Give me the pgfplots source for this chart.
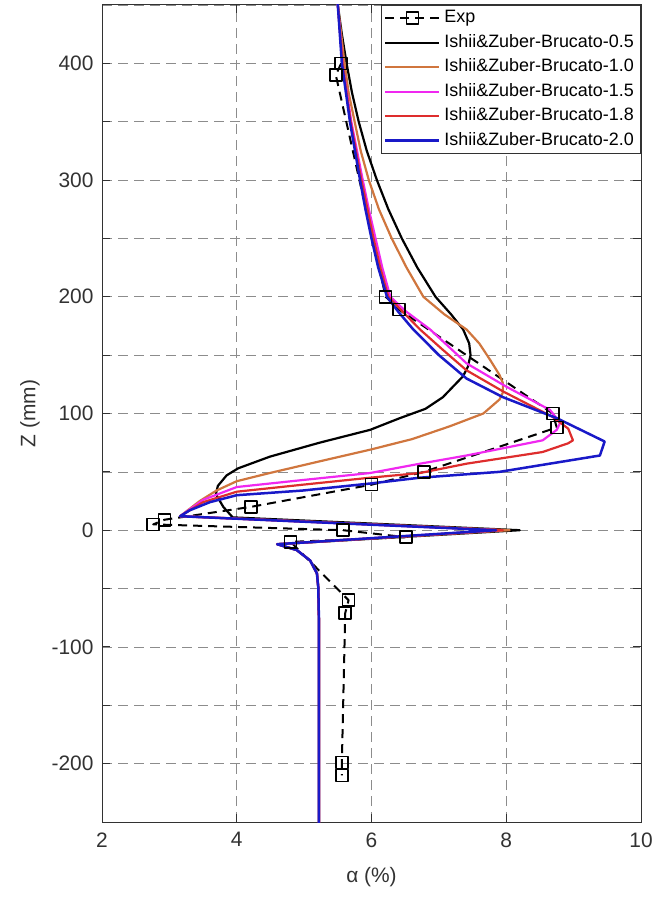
\documentclass[border=0pt]{standalone}
\usepackage{fontspec}
\setmainfont{Liberation Sans}
\usepackage{pgfplots}
\pgfplotsset{compat=1.18}
\definecolor{cOrange}{RGB}{208,118,62}
\definecolor{cMagenta}{RGB}{240,40,240}
\definecolor{cRed}{RGB}{222,45,45}
\definecolor{cBlue}{RGB}{25,25,200}
\definecolor{axgray}{RGB}{50,50,50}
\begin{document}
\begin{tikzpicture}
\begin{axis}[
  scale only axis, width=539bp, height=817bp,
  xmin=2, xmax=10, ymin=-250, ymax=450,
  xtick={2,4,6,8,10},
  ytick={-250,-200,...,450},
  yticklabels={{},-200,{},-100,{},0,{},100,{},200,{},300,{},400,{}},
  grid=major,
  major grid style={dash pattern=on 10bp off 6bp, black!45, line width=0.7bp},
  tick align=inside,
  major tick length=8bp,
  axis line style={axgray, line width=1bp},
  tick style={axgray, line width=1bp},
  /pgf/number format/assume math mode=true,
  ticklabel style={font=\fontsize{21}{25}\selectfont, text=axgray},
  xticklabel style={yshift=-7bp},
  yticklabel style={xshift=-5bp},
  xlabel={α (\%)},
  xlabel style={at={(axis description cs:0.5,-0.0673)}, anchor=center, font=\fontsize{21}{25}\selectfont, text=axgray},
  ylabel={Z (mm)},
  ylabel style={at={(axis description cs:-0.1336,0.5)}, anchor=center, font=\fontsize{21}{25}\selectfont, text=axgray},
  legend image code/.code={\draw[mark repeat=2,mark phase=2,#1] plot coordinates {(0bp,0bp) (27bp,0bp) (54bp,0bp)};},
  legend style={at={(1,1)}, anchor=north east, draw=axgray, line width=0.9bp, fill=white,
    font=\fontsize{18}{21}\selectfont, inner xsep=3bp, inner ysep=0.5bp,
    nodes={text height=13bp, text depth=4bp, inner sep=3.75bp}},
  legend cell align=left,
  every axis plot/.append style={line join=round},
]
\addplot[black, line width=2bp, dash pattern=on 9bp off 6bp, mark=square, mark size=6bp, mark options={solid, line width=1.6bp}] coordinates {
(5.55,400) (5.47,390) (6.21,200) (6.41,189) (8.69,100) (8.75,88) (6.78,50) (6.00,39) (4.21,20) (2.93,9) (2.76,5) (5.58,0) (6.51,-6) (4.80,-10) (5.66,-60) (5.61,-71) (5.56,-199) (5.56,-210)
};
\addlegendentry{Exp}
\addplot[black, line width=2.2bp] coordinates {
(5.47,460) (5.50,450) (5.56,425) (5.63,400) (5.71,375) (5.81,350) (5.93,325) (6.08,300) (6.25,275) (6.45,250) (6.68,225) (6.95,200) (7.18,185) (7.36,172) (7.45,160) (7.47,150) (7.43,140) (7.36,132) (7.06,114) (6.80,104) (6.42,96) (5.98,86) (5.23,75) (4.49,63) (4.02,53) (3.85,47) (3.72,38) (3.69,31) (3.80,20) (3.94,11) (8.20,0) (4.60,-12) (4.89,-17) (5.09,-26) (5.19,-37) (5.21,-49) (5.22,-77) (5.22,-260)
};
\addlegendentry{Ishii\&Zuber-Brucato-0.5}
\addplot[cOrange, line width=2.2bp] coordinates {
(5.47,460) (5.50,450) (5.60,400) (5.66,375) (5.75,350) (5.84,325) (5.96,300) (6.11,275) (6.30,250) (6.52,225) (6.77,200) (7.08,185) (7.41,172) (7.60,160) (7.76,146) (7.90,133) (7.95,126) (7.95,118) (7.90,112) (7.66,100) (7.16,89) (6.60,78) (5.98,69) (5.23,59) (4.49,49) (4.00,42) (3.70,34) (3.45,25) (3.16,12) (8.05,0) (4.60,-12) (4.89,-17) (5.09,-26) (5.19,-37) (5.21,-49) (5.22,-77) (5.22,-260)
};
\addlegendentry{Ishii\&Zuber-Brucato-1.0}
\addplot[cMagenta, line width=2.2bp] coordinates {
(5.47,460) (5.50,450) (5.57,400) (5.70,350) (5.87,300) (5.96,275) (6.06,250) (6.16,225) (6.28,200) (6.50,188) (6.87,172) (7.15,157) (7.41,143) (8.00,123) (8.65,103) (8.80,92) (8.75,86) (8.54,77) (7.41,64) (6.72,57) (5.98,49) (4.98,43) (4.00,37) (3.50,26) (3.16,12) (7.90,0) (4.60,-12) (4.89,-17) (5.09,-26) (5.19,-37) (5.21,-49) (5.22,-77) (5.22,-260)
};
\addlegendentry{Ishii\&Zuber-Brucato-1.5}
\addplot[cRed, line width=2.2bp] coordinates {
(5.47,460) (5.50,450) (5.57,400) (5.69,350) (5.85,300) (5.94,275) (6.03,250) (6.13,225) (6.25,200) (6.45,188) (6.72,172) (7.05,155) (7.41,137) (7.95,119) (8.69,97) (8.92,87) (8.99,77) (8.92,74.5) (8.54,67) (7.41,57) (6.72,49) (5.98,45) (4.98,39) (4.00,33) (3.50,24) (3.16,12) (7.95,0) (4.60,-12) (4.89,-17) (5.09,-26) (5.19,-37) (5.21,-49) (5.22,-77) (5.22,-260)
};
\addlegendentry{Ishii\&Zuber-Brucato-1.8}
\addplot[cBlue, line width=2.5bp] coordinates {
(5.47,460) (5.50,450) (5.56,400) (5.68,350) (5.83,300) (5.91,275) (6.00,250) (6.10,225) (6.23,200) (6.40,187) (6.62,172) (7.00,150) (7.41,130) (7.95,114) (8.75,96) (9.46,76) (9.39,64) (7.90,50) (6.72,45) (5.98,40) (4.98,34) (4.00,30) (3.60,24) (3.30,17) (3.16,12) (7.85,0) (4.60,-12) (4.89,-17) (5.09,-26) (5.19,-37) (5.21,-49) (5.22,-77) (5.22,-260)
};
\addlegendentry{Ishii\&Zuber-Brucato-2.0}
\end{axis}
\path ([shift={(-102bp,-75bp)}]current axis.south west) rectangle ([shift={(16bp,5bp)}]current axis.north east);
\end{tikzpicture}
\end{document}
